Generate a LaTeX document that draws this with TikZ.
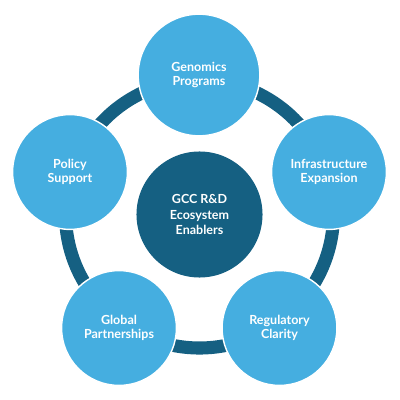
\documentclass[tikz,border=0pt]{standalone}
\usepackage{fontspec}
\setmainfont{Lato}
\definecolor{ringblue}{HTML}{156082}
\definecolor{petal}{HTML}{45AEE0}
\tikzset{
  petalnode/.style={circle, fill=petal, draw=white, line width=1pt, text=white, align=center, font=\bfseries\fontsize{8.9}{10.4}\selectfont, inner sep=0pt},
  hubnode/.style={circle, fill=ringblue, text=white, align=center, font=\bfseries\fontsize{8.9}{11}\selectfont, inner sep=0pt, minimum size=3.15cm}
}
\begin{document}
\begin{tikzpicture}[x=0.025cm, y=-0.025cm]
\useasboundingbox (0,0) rectangle (400,400);
\draw [ringblue, line width=9.3pt] (199.5,214) circle (134);
\node (hub) [hubnode] at (199.5,214.5) {GCC R\&D\\Ecosystem\\Enablers};
\node (gen) [petalnode, minimum size=3.04cm] at (199,75) {Genomics\\Programs};
\node (infra) [petalnode, minimum size=2.87cm] at (329,172) {Infrastructure\\Expansion};
\node (reg) [petalnode, minimum size=2.87cm] at (279.5,328) {Regulatory\\Clarity};
\node (glob) [petalnode, minimum size=2.87cm] at (119,328) {Global\\Partnerships};
\node (pol) [petalnode, minimum size=2.87cm] at (70,172) {Policy\\Support};
\end{tikzpicture}
\end{document}
